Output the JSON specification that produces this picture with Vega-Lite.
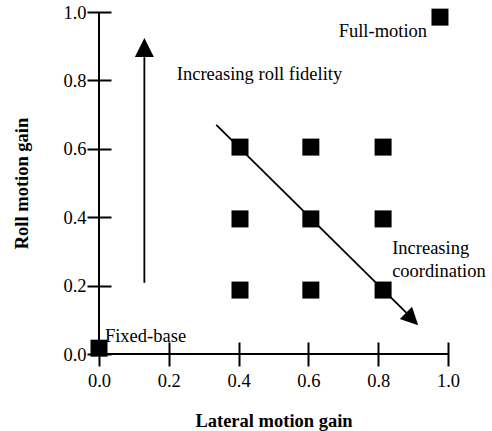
{
  "$schema": "https://vega.github.io/schema/vega-lite/v6.json",
  "width": 349,
  "height": 342,
  "autosize": {"type": "none"},
  "padding": {"left": 99, "top": 12, "right": 44, "bottom": 77},
  "config": {
    "view": {"stroke": null},
    "font": "Liberation Serif",
    "axis": {
      "domain": false,
      "grid": false,
      "tickColor": "black",
      "tickWidth": 2,
      "tickSize": 24,
      "offset": -12,
      "labelColor": "black",
      "labelFont": "Liberation Serif",
      "labelFontSize": 18.5,
      "titleColor": "black",
      "titleFont": "Liberation Serif",
      "titleFontSize": 18.5,
      "titleFontWeight": "bold"
    }
  },
  "encoding": {
    "x": {
      "field": "x", "type": "quantitative",
      "scale": {"domain": [0, 1], "nice": false},
      "axis": {"title": "Lateral motion gain", "values": [0, 0.2, 0.4, 0.6, 0.8, 1.0], "format": ".1f", "labelPadding": 5, "titlePadding": 22, "labelFlush": false}
    },
    "y": {
      "field": "y", "type": "quantitative",
      "scale": {"domain": [0, 1], "nice": false},
      "axis": {"title": "Roll motion gain", "values": [0, 0.2, 0.4, 0.6, 0.8, 1.0], "format": ".1f", "labelPadding": 1, "titlePadding": 31, "labelFlush": false}
    }
  },
  "layer": [
    {
      "data": {"values": [
        {"x": 0, "y": 0, "x2": 0, "y2": 1},
        {"x": 0, "y": 0, "x2": 1, "y2": 0}
      ]},
      "mark": {"type": "rule", "color": "black", "strokeWidth": 2},
      "encoding": {"x2": {"field": "x2"}, "y2": {"field": "y2"}}
    },
    {
      "data": {"values": [
        {"x": 0.130, "y": 0.208, "x2": 0.130, "y2": 0.868},
        {"x": 0.336, "y": 0.670, "x2": 0.881, "y2": 0.120}
      ]},
      "mark": {"type": "rule", "color": "black", "strokeWidth": 1.8},
      "encoding": {"x2": {"field": "x2"}, "y2": {"field": "y2"}}
    },
    {
      "data": {"values": [{"x": 0.130, "y": 0.896}]},
      "mark": {"type": "point", "shape": "M0,-1L-1,1L1,1Z", "filled": true, "color": "black", "opacity": 1, "size": 361, "angle": 0}
    },
    {
      "data": {"values": [{"x": 0.897, "y": 0.102}]},
      "mark": {"type": "point", "shape": "M0,-1L-1,1L1,1Z", "filled": true, "color": "black", "opacity": 1, "size": 300, "angle": 135}
    },
    {
      "data": {"values": [
        {"x": 0.404, "y": 0.605}, {"x": 0.607, "y": 0.605}, {"x": 0.814, "y": 0.605},
        {"x": 0.404, "y": 0.395}, {"x": 0.607, "y": 0.395}, {"x": 0.814, "y": 0.395},
        {"x": 0.404, "y": 0.187}, {"x": 0.607, "y": 0.187}, {"x": 0.814, "y": 0.187},
        {"x": 0.0, "y": 0.017}, {"x": 0.977, "y": 0.985}
      ]},
      "mark": {"type": "point", "shape": "square", "filled": true, "color": "black", "opacity": 1, "size": 289}
    },
    {
      "data": {"values": [
        {"x": 0.223, "y": 0.801, "label": "Increasing roll fidelity"},
        {"x": 0.017, "y": 0.035, "label": "Fixed-base"},
        {"x": 0.840, "y": 0.292, "label": "Increasing"},
        {"x": 0.840, "y": 0.225, "label": "coordination"}
      ]},
      "mark": {"type": "text", "align": "left", "baseline": "alphabetic", "fontSize": 18.5, "color": "black", "font": "Liberation Serif"},
      "encoding": {"text": {"field": "label"}}
    },
    {
      "data": {"values": [
        {"x": 0.940, "y": 0.927, "label": "Full-motion"}
      ]},
      "mark": {"type": "text", "align": "right", "baseline": "alphabetic", "fontSize": 18.5, "color": "black", "font": "Liberation Serif"},
      "encoding": {"text": {"field": "label"}}
    }
  ]
}
